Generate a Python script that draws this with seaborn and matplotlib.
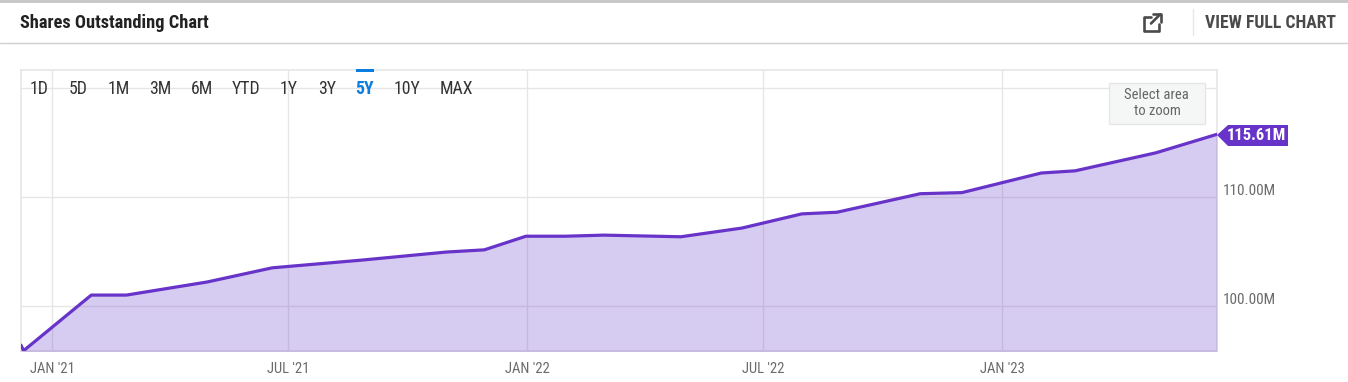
import pandas as pd
import matplotlib
matplotlib.use("Agg")
import matplotlib.pyplot as plt
import matplotlib.dates as mdates
import matplotlib.transforms as mtrans
from matplotlib.patches import Polygon, Rectangle
import seaborn as sns

dates = ["2020-12-08", "2020-12-10", "2021-01-31", "2021-02-27", "2021-04-30", "2021-06-19",
         "2021-08-26", "2021-10-31", "2021-11-29", "2021-12-31", "2022-01-30", "2022-03-01",
         "2022-04-29", "2022-06-15", "2022-07-31", "2022-08-27", "2022-10-30", "2022-12-01",
         "2023-01-31", "2023-02-26", "2023-04-29", "2023-06-15"]
shares = [96.4, 95.9, 101.0, 101.0, 102.2, 103.5,
          104.2, 104.95, 105.15, 106.4, 106.4, 106.5,
          106.35, 107.15, 108.45, 108.6, 110.3, 110.4,
          112.2, 112.4, 114.05, 115.75]
x_ticks = ["2021-01-01", "2021-07-01", "2022-01-01", "2022-07-01", "2023-01-01"]
x_labels = ["JAN '21", "JUL '21", "JAN '22", "JUL '22", "JAN '23"]
y_ticks = [100, 110, 120]
y_labels = ["100.00M", "110.00M", ""]
ranges = ["1D", "5D", "1M", "3M", "6M", "YTD", "1Y", "3Y", "5Y", "10Y", "MAX"]
last_label = "115.61M"

W, H = 1348, 382
PURPLE = "#6733c9"
GRID = "#e6e6e6"

sns.set_theme(style="white")
plt.rcParams["font.family"] = ["Roboto Condensed", "Roboto", "DejaVu Sans"]

df = pd.DataFrame({"date": pd.to_datetime(dates), "shares": shares})

fig = plt.figure(figsize=(W / 100, H / 100), dpi=100, facecolor="white")

# overlay in pixel coordinates for the page furniture
page = fig.add_axes([0, 0, 1, 1], zorder=5)
page.set_xlim(0, W)
page.set_ylim(H, 0)
page.axis("off")

ax = fig.add_axes([21 / W, 1 - 351 / H, (1217 - 21) / W, (351 - 70) / H], zorder=1)
ax.fill_between(df["date"], df["shares"], 90, color="#5f33c4", alpha=0.25, linewidth=0, zorder=3)
sns.lineplot(data=df, x="date", y="shares", ax=ax, color=PURPLE, linewidth=2.3, zorder=4)

ax.set_xlim(pd.Timestamp("2020-12-08"), pd.Timestamp("2023-06-15"))
ax.set_ylim(95.87, 121.65)
ax.set_xlabel("")
ax.set_ylabel("")
ax.set_xticks(mdates.date2num(pd.to_datetime(x_ticks)))
ax.set_xticklabels(x_labels, fontsize=10.5, color="#6b6b6b")
ax.yaxis.tick_right()
ax.set_yticks(y_ticks)
ax.set_yticklabels(y_labels, fontsize=11, color="#6b6b6b", va="center")
ax.tick_params(axis="both", length=0)
ax.tick_params(axis="x", pad=8)
ax.tick_params(axis="y", pad=4)
shift = mtrans.ScaledTranslation(0, 6 / 100, fig.dpi_scale_trans)
for lab in ax.get_yticklabels():
    lab.set_transform(lab.get_transform() + shift)
ax.grid(True, color=GRID, linewidth=1, zorder=1)
ax.set_axisbelow(True)
for s in ax.spines.values():
    s.set_color(GRID)
    s.set_linewidth(1.2)

# header
page.add_patch(Rectangle((0, 0), W, 3, color="#c8c8c8", linewidth=0))
page.plot([0, W], [42.5, 42.5], color="#cfcfcf", linewidth=1)
page.plot([1192.5, 1192.5], [9, 35], color="#e6e6e6", linewidth=1)
page.text(20, 23, "Shares Outstanding Chart", fontsize=13.2, fontweight="bold", color="#222222", va="center")
page.text(1336, 23, "VIEW FULL CHART", fontsize=12.7, fontweight="bold", color="#4a4a4a", va="center", ha="right")

# external link icon
page.plot([1151, 1144, 1144, 1158.5, 1158.5], [17, 17, 30.5, 30.5, 24], color="#4a4a4a", linewidth=1.9)
page.plot([1151, 1160], [23.5, 14.5], color="#4a4a4a", linewidth=1.9)
page.plot([1153, 1160.5, 1160.5], [14, 14, 21.5], color="#4a4a4a", linewidth=1.9)

# range selector
range_x = [39.5, 78, 118.5, 160, 201.5, 246, 289, 327, 365, 407, 456]
for name, px in zip(ranges, range_x):
    active = name == "5Y"
    page.text(px, 89, name, fontsize=12.8, ha="center", va="center",
              color="#0a7ee0" if active else "#333333", fontweight="bold" if active else "normal")
page.add_patch(Rectangle((356, 69), 18, 3, color="#0a7ee0", linewidth=0))

# zoom hint
page.add_patch(Rectangle((1108.5, 82.5), 96, 41, facecolor="#f5f7f7", edgecolor=GRID, linewidth=1))
page.text(1156.5, 95, "Select area", fontsize=10.5, color="#666666", ha="center", va="center")
page.text(1157, 111, "to zoom", fontsize=10.5, color="#666666", ha="center", va="center")

# last value tag
page.add_patch(Polygon([(1217, 135), (1228, 125), (1288, 125), (1288, 146), (1228, 146)],
                       closed=True, color=PURPLE, linewidth=0))
page.text(1256.5, 136, last_label, fontsize=12, fontweight="bold", color="white", ha="center", va="center")

fig.savefig("out.png", dpi=100)
